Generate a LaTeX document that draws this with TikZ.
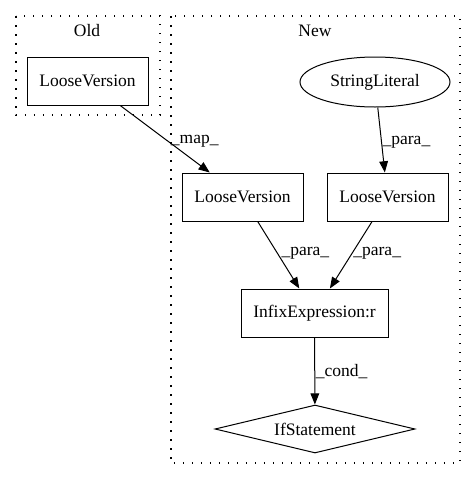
\documentclass[tikz,border=0pt]{standalone}
\usepackage{fontspec}
\setmainfont{Liberation Serif}
\usetikzlibrary{shapes.geometric,arrows.meta}
\tikzset{
	box/.style={draw, rectangle, minimum width=96.8pt, minimum height=38.4pt, inner sep=0pt},
	cluster/.style={line width=1.2pt, dash pattern=on 1.2pt off 6pt},
	lbl/.style={right, inner sep=1.5pt}
}
\begin{document}
\begin{tikzpicture}[x=0.8pt, y=-0.8pt, line width=0.8pt, font=\fontsize{14}{16}\selectfont, >={Triangle[length=9pt,width=7pt]}]
	\useasboundingbox (0,0) rectangle (476,480);

	\draw[cluster] (16,16) rectangle (160,115);
	\draw[cluster] (171,16) rectangle (460,463);
	\node (oldlbl) at (87,31) {Old};
	\node (newlbl) at (315,31) {New};

	\node[box] (oldlv) at (87.5,81) {LooseVersion};
	\node[draw, ellipse, minimum width=120pt, minimum height=40pt, inner sep=0pt] (strlit) at (375,82) {StringLiteral};
	\node[box] (newlv) at (242.5,197) {LooseVersion};
	\node[box] (strlv) at (387.5,197) {LooseVersion};
	\node[box, minimum width=117.6pt] (infix) at (314.5,313) {InfixExpression:r};
	\node[draw, diamond, aspect=4, minimum width=160pt, minimum height=38.4pt, inner sep=0pt] (ifst) at (315,429) {IfStatement};

	\draw[->] (oldlv) -- (newlv) node[lbl, pos=.54] {\_map\_};
	\draw[->] (strlit) -- (strlv) node[lbl, pos=.53, inner sep=0.5pt] {\_para\_};
	\draw[->] (newlv) -- (infix) node[lbl, pos=.47, inner sep=3pt] {\_para\_};
	\draw[->] (strlv) -- (infix) node[lbl, pos=.47, inner sep=0.5pt] {\_para\_};
	\draw[->] (infix) -- (ifst) node[lbl, pos=.51, inner sep=0.5pt] {\_cond\_};
\end{tikzpicture}
\end{document}
